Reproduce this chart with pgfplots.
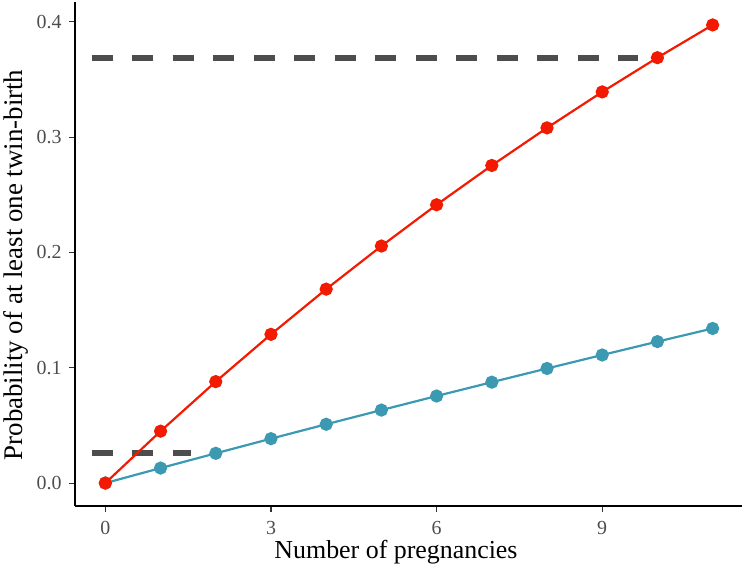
\documentclass[border=0pt]{standalone}
\usepackage{fontspec}
\setmainfont{Liberation Serif}
\usepackage{pgfplots}
\pgfplotsset{compat=1.18}
\definecolor{zred}{HTML}{F21A00}
\definecolor{zblue}{HTML}{3B9AB2}
\definecolor{dashgray}{HTML}{4D4D4D}
\definecolor{ticklab}{HTML}{4D4D4D}
\begin{document}
\begin{tikzpicture}
\useasboundingbox (-75bp,-67bp) rectangle (667bp,506bp);
\begin{axis}[
  scale only axis, width=668bp, height=504bp,
  xmin=-0.55, xmax=11.55, ymin=-0.0199, ymax=0.4173,
  axis x line*=bottom, axis y line*=left,
  axis line style={line width=1.4bp, black},
  xtick={0,3,6,9}, ytick={0,0.1,0.2,0.3,0.4},
  tick align=outside, major tick length=6bp,
  tick style={line width=1.1bp, black!80},
  /pgf/number format/assume math mode=true,
  yticklabel style={/pgf/number format/fixed, /pgf/number format/precision=1, /pgf/number format/fixed zerofill, xshift=-4bp},
  xticklabel style={yshift=-6bp},
  ticklabel style={font=\fontsize{20}{20}\selectfont, color=ticklab},
  xlabel={Number of pregnancies},
  ylabel={Probability of at least one twin-birth},
  xlabel style={font=\fontsize{26}{26}\selectfont, at={(axis description cs:0.5,0)}, anchor=base, yshift=-52bp, xshift=-13bp},
  ylabel style={font=\fontsize{27}{27}\selectfont, at={(axis description cs:0,0.5)}, anchor=center, yshift=59bp, xshift=-11bp},
  clip=false,
]
\addplot[dashgray, line width=6bp, dash pattern=on 21bp off 19.5bp] coordinates {(-0.25,0.369) (9.65,0.369)};
\addplot[dashgray, line width=6bp, dash pattern=on 21bp off 19.5bp] coordinates {(-0.25,0.026) (1.55,0.026)};
\addplot[zblue, line width=2.2bp, mark=*, mark size=5.5bp] coordinates {
(0,0) (1,0.013) (2,0.0258) (3,0.0385) (4,0.0510) (5,0.0633) (6,0.0755) (7,0.0875) (8,0.0994) (9,0.1111) (10,0.1227) (11,0.1341)};
\addplot[zred, line width=2.2bp, mark=*, mark size=5.5bp] coordinates {
(0,0) (1,0.045) (2,0.0880) (3,0.1290) (4,0.1682) (5,0.2056) (6,0.2414) (7,0.2755) (8,0.3081) (9,0.3393) (10,0.3690) (11,0.3974)};
\end{axis}
\end{tikzpicture}
\end{document}
